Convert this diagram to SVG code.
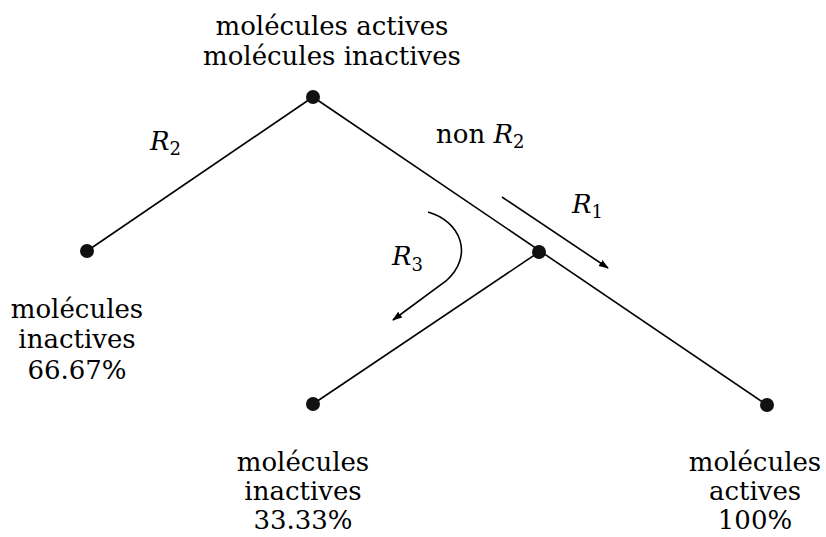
<svg xmlns="http://www.w3.org/2000/svg" width="826" height="537" viewBox="0 0 826 537">
<style>
.t{font-family:"DejaVu Serif","Liberation Serif",serif;font-size:26px;fill:#000;text-anchor:middle}
.r{font-family:"DejaVu Serif","Liberation Serif",serif;font-size:26px;font-style:italic;fill:#000}
.s{font-size:18px;font-style:normal}
.e{stroke:#000;stroke-width:1.6;fill:none}
.n{fill:#111}
</style>
<defs>
<marker id="ah" viewBox="0 0 10 10" refX="9" refY="5" markerWidth="10" markerHeight="10" markerUnits="userSpaceOnUse" orient="auto">
<path d="M0,1.5 L10,5 L0,8.5 z" fill="#000"/>
</marker>
</defs>
<g id="connectors">
<line class="e" x1="313" y1="97" x2="87" y2="251"/>
<line class="e" x1="313" y1="97" x2="767" y2="405"/>
<line class="e" x1="539" y1="252" x2="313" y2="404"/>
<line class="e" x1="502" y1="197" x2="608" y2="268" marker-end="url(#ah)"/>
<path class="e" d="M428,212 C460,221 475,255 446,281 L393,320" marker-end="url(#ah)"/>
</g>
<g id="top"><circle class="n" cx="313" cy="97" r="7"/>
<text class="t" x="332" y="35">molécules actives</text>
<text class="t" x="332" y="65">molécules inactives</text></g>
<g id="left"><circle class="n" cx="87" cy="251" r="7"/>
<text class="t" x="77" y="318">molécules</text>
<text class="t" x="77" y="348">inactives</text>
<text class="t" x="77" y="379">66.67%</text></g>
<g id="mid"><circle class="n" cx="539" cy="252" r="7"/></g>
<g id="bottomleft"><circle class="n" cx="313" cy="404" r="7"/>
<text class="t" x="303" y="471">molécules</text>
<text class="t" x="303" y="500">inactives</text>
<text class="t" x="303" y="529">33.33%</text></g>
<g id="bottomright"><circle class="n" cx="767" cy="405" r="7"/>
<text class="t" x="755" y="471">molécules</text>
<text class="t" x="755" y="500">actives</text>
<text class="t" x="755" y="529">100%</text></g>
<g id="labels">
<text class="r" x="150" y="150">R<tspan class="s" dy="5">2</tspan></text>
<text class="r" x="436" y="143"><tspan style="font-style:normal">non </tspan>R<tspan class="s" dy="5">2</tspan></text>
<text class="r" x="572" y="213">R<tspan class="s" dy="5">1</tspan></text>
<text class="r" x="392" y="265">R<tspan class="s" dy="6">3</tspan></text>
</g>
</svg>
